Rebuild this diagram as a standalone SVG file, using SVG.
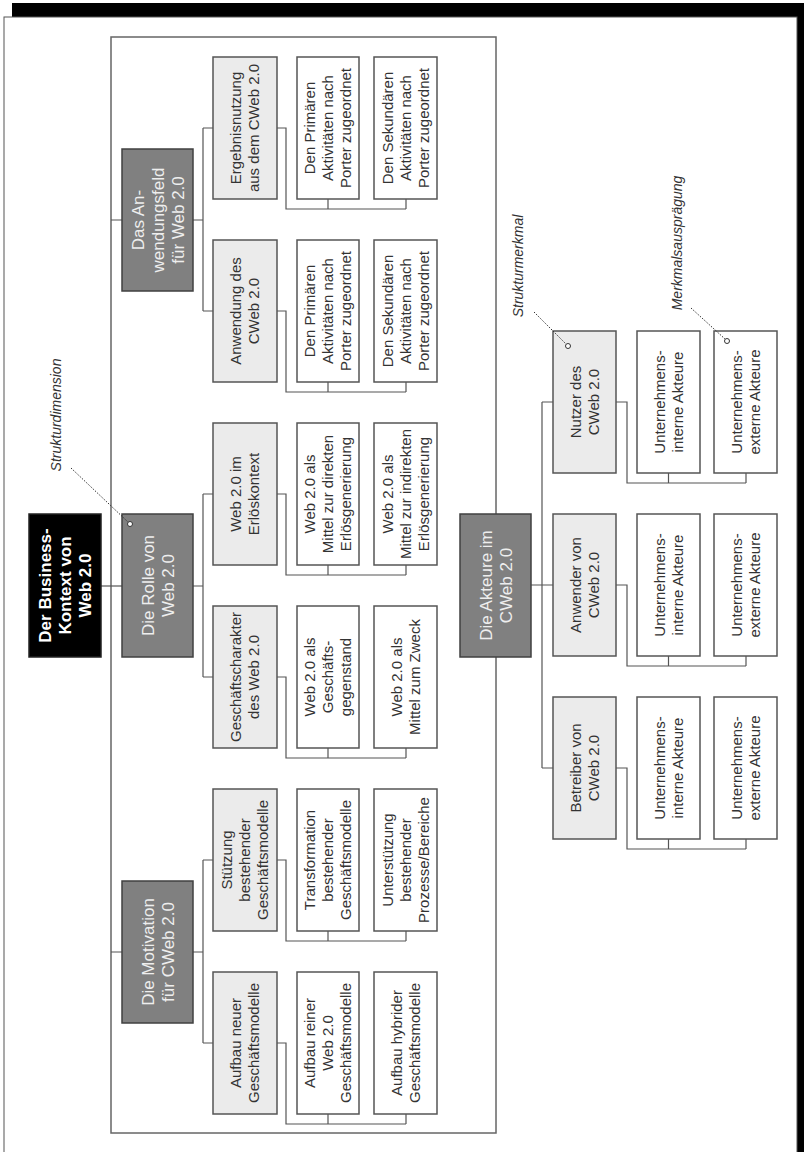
<svg xmlns="http://www.w3.org/2000/svg" width="804" height="1152" viewBox="0 0 804 1152">
<style>
text{font-family:"Liberation Sans",Arial,Helvetica,sans-serif}
.t{font-size:15px;fill:#333;text-anchor:middle}
.td{font-size:17px;fill:#eeeeee;text-anchor:middle}
.tr{font-size:17px;fill:#fff;font-weight:bold;text-anchor:middle}
.ta{font-size:14px;fill:#333;font-style:italic;text-anchor:middle}
.dim{fill:#808080;stroke:#404040;stroke-width:1.5}
.feat{fill:#ebebeb;stroke:#555;stroke-width:1.5}
.leaf{fill:#fff;stroke:#555;stroke-width:1.5}
.root{fill:#000;stroke:#222;stroke-width:1.5}
.c{fill:none;stroke:#555;stroke-width:1.2}
.dot{fill:none;stroke:#333;stroke-width:1;stroke-dasharray:1.5 1.5}
.pin{fill:#fff;stroke:#333;stroke-width:1}
</style>

<!-- outer frame with shadow -->
<rect x="12" y="3" width="800" height="1160" fill="#000"/>
<rect x="4" y="17" width="793" height="1150" fill="#fff" stroke="#555" stroke-width="1"/>

<!-- inner frame (also trunk) -->
<rect x="111" y="37" width="385" height="1096" fill="none" stroke="#666" stroke-width="1.5"/>

<g id="connectors">
  <!-- root to Rolle -->
  <path class="c" d="M101 586 H122"/>
  <!-- frame to dimensions -->
  <path class="c" d="M111 220 H122 M111 952 H122"/>
  <!-- Anwendungsfeld to features -->
  <path class="c" d="M193 220 H203 M203 128 V311 M203 128 H213 M203 311 H213"/>
  <!-- Rolle to features -->
  <path class="c" d="M193 586 H203 M203 494 V677 M203 494 H213 M203 677 H213"/>
  <!-- Motivation to features -->
  <path class="c" d="M193 952 H203 M203 860 V1043 M203 860 H213 M203 1043 H213"/>
  <!-- feature to leaves brackets -->
  <path class="c" d="M277 128 H286 V209 H406 M328 199 V209 M406 199 V209"/>
  <path class="c" d="M277 311 H286 V392 H406 M328 382 V392 M406 382 V392"/>
  <path class="c" d="M277 494 H286 V575 H406 M328 565 V575 M406 565 V575"/>
  <path class="c" d="M277 677 H286 V758 H406 M328 748 V758 M406 748 V758"/>
  <path class="c" d="M277 860 H286 V941 H406 M328 931 V941 M406 931 V941"/>
  <path class="c" d="M277 1043 H286 V1124 H406 M328 1114 V1124 M406 1114 V1124"/>
  <!-- Akteure -->
  <path class="c" d="M531 585 H542 M542 402 V768 M542 402 H553 M542 585 H553 M542 768 H553"/>
  <path class="c" d="M616 402 H627 V483 H746 M668.5 473 V483 M746 473 V483"/>
  <path class="c" d="M616 585 H627 V666 H746 M668.5 656 V666 M746 656 V666"/>
  <path class="c" d="M616 768 H627 V849 H746 M668.5 839 V849 M746 839 V849"/>
</g>

<!-- root -->
<g id="root">
  <rect class="root" x="29" y="514" width="72" height="143"/>
  <text class="tr" transform="translate(65,585.5) rotate(-90)"><tspan x="0" y="-14">Der Business-</tspan><tspan x="0" y="6">Kontext von</tspan><tspan x="0" y="26">Web 2.0</tspan></text>
</g>

<!-- dimensions -->
<g id="dim-anwendungsfeld">
  <rect class="dim" x="122" y="149" width="71" height="142"/>
  <text class="td" transform="translate(157.5,220) rotate(-90)"><tspan x="0" y="-14">Das An-</tspan><tspan x="0" y="6">wendungsfeld</tspan><tspan x="0" y="26">für Web 2.0</tspan></text>
</g>
<g id="dim-rolle">
  <rect class="dim" x="122" y="514" width="71" height="143"/>
  <text class="td" transform="translate(157.5,585.5) rotate(-90)"><tspan x="0" y="-4">Die Rolle von</tspan><tspan x="0" y="16">Web 2.0</tspan></text>
</g>
<g id="dim-motivation">
  <rect class="dim" x="122" y="881" width="71" height="142"/>
  <text class="td" transform="translate(157.5,952) rotate(-90)"><tspan x="0" y="-4">Die Motivation</tspan><tspan x="0" y="16">für CWeb 2.0</tspan></text>
</g>
<g id="dim-akteure">
  <rect class="dim" x="460" y="514" width="71" height="143"/>
  <text class="td" transform="translate(495.5,585.5) rotate(-90)"><tspan x="0" y="-4">Die Akteure im</tspan><tspan x="0" y="16">CWeb 2.0</tspan></text>
</g>

<!-- features -->
<g id="f-ergebnis">
  <rect class="feat" x="213" y="57" width="64" height="142"/>
  <text class="t" transform="translate(245,128) rotate(-90)"><tspan x="0" y="-3.75">Ergebnisnutzung</tspan><tspan x="0" y="14.25">aus dem CWeb 2.0</tspan></text>
</g>
<g id="f-anwendung">
  <rect class="feat" x="213" y="240" width="64" height="142"/>
  <text class="t" transform="translate(245,311) rotate(-90)"><tspan x="0" y="-3.75">Anwendung des</tspan><tspan x="0" y="14.25">CWeb 2.0</tspan></text>
</g>
<g id="f-erloes">
  <rect class="feat" x="213" y="423" width="64" height="142"/>
  <text class="t" transform="translate(245,494) rotate(-90)"><tspan x="0" y="-3.75">Web 2.0 im</tspan><tspan x="0" y="14.25">Erlöskontext</tspan></text>
</g>
<g id="f-geschaeft">
  <rect class="feat" x="213" y="606" width="64" height="142"/>
  <text class="t" transform="translate(245,677) rotate(-90)"><tspan x="0" y="-3.75">Geschäftscharakter</tspan><tspan x="0" y="14.25">des Web 2.0</tspan></text>
</g>
<g id="f-stuetzung">
  <rect class="feat" x="213" y="789" width="64" height="142"/>
  <text class="t" transform="translate(245,860) rotate(-90)"><tspan x="0" y="-12.75">Stützung</tspan><tspan x="0" y="5.25">bestehender</tspan><tspan x="0" y="23.25">Geschäftsmodelle</tspan></text>
</g>
<g id="f-aufbau">
  <rect class="feat" x="213" y="972" width="64" height="142"/>
  <text class="t" transform="translate(245,1043) rotate(-90)"><tspan x="0" y="-3.75">Aufbau neuer</tspan><tspan x="0" y="14.25">Geschäftsmodelle</tspan></text>
</g>

<!-- leaves column 1 / 2 -->
<g id="l-erg-prim">
  <rect class="leaf" x="297" y="57" width="62" height="142"/>
  <text class="t" transform="translate(328,128) rotate(-90)"><tspan x="0" y="-12.75">Den Primären</tspan><tspan x="0" y="5.25">Aktivitäten nach</tspan><tspan x="0" y="23.25">Porter zugeordnet</tspan></text>
</g>
<g id="l-erg-sek">
  <rect class="leaf" x="374" y="57" width="63" height="142"/>
  <text class="t" transform="translate(405.5,128) rotate(-90)"><tspan x="0" y="-12.75">Den Sekundären</tspan><tspan x="0" y="5.25">Aktivitäten nach</tspan><tspan x="0" y="23.25">Porter zugeordnet</tspan></text>
</g>
<g id="l-anw-prim">
  <rect class="leaf" x="297" y="240" width="62" height="142"/>
  <text class="t" transform="translate(328,311) rotate(-90)"><tspan x="0" y="-12.75">Den Primären</tspan><tspan x="0" y="5.25">Aktivitäten nach</tspan><tspan x="0" y="23.25">Porter zugeordnet</tspan></text>
</g>
<g id="l-anw-sek">
  <rect class="leaf" x="374" y="240" width="63" height="142"/>
  <text class="t" transform="translate(405.5,311) rotate(-90)"><tspan x="0" y="-12.75">Den Sekundären</tspan><tspan x="0" y="5.25">Aktivitäten nach</tspan><tspan x="0" y="23.25">Porter zugeordnet</tspan></text>
</g>
<g id="l-erl-dir">
  <rect class="leaf" x="297" y="423" width="62" height="142"/>
  <text class="t" transform="translate(328,494) rotate(-90)"><tspan x="0" y="-12.75">Web 2.0 als</tspan><tspan x="0" y="5.25">Mittel zur direkten</tspan><tspan x="0" y="23.25">Erlösgenerierung</tspan></text>
</g>
<g id="l-erl-ind">
  <rect class="leaf" x="374" y="423" width="63" height="142"/>
  <text class="t" transform="translate(405.5,494) rotate(-90)"><tspan x="0" y="-12.75">Web 2.0 als</tspan><tspan x="0" y="5.25">Mittel zur indirekten</tspan><tspan x="0" y="23.25">Erlösgenerierung</tspan></text>
</g>
<g id="l-ges-gegen">
  <rect class="leaf" x="297" y="606" width="62" height="142"/>
  <text class="t" transform="translate(328,677) rotate(-90)"><tspan x="0" y="-12.75">Web 2.0 als</tspan><tspan x="0" y="5.25">Geschäfts-</tspan><tspan x="0" y="23.25">gegenstand</tspan></text>
</g>
<g id="l-ges-zweck">
  <rect class="leaf" x="374" y="606" width="63" height="142"/>
  <text class="t" transform="translate(405.5,677) rotate(-90)"><tspan x="0" y="-3.75">Web 2.0 als</tspan><tspan x="0" y="14.25">Mittel zum Zweck</tspan></text>
</g>
<g id="l-stu-trans">
  <rect class="leaf" x="297" y="789" width="62" height="142"/>
  <text class="t" transform="translate(328,860) rotate(-90)"><tspan x="0" y="-12.75">Transformation</tspan><tspan x="0" y="5.25">bestehender</tspan><tspan x="0" y="23.25">Geschäftsmodelle</tspan></text>
</g>
<g id="l-stu-unter">
  <rect class="leaf" x="374" y="789" width="63" height="142"/>
  <text class="t" transform="translate(405.5,860) rotate(-90)"><tspan x="0" y="-12.75">Unterstützung</tspan><tspan x="0" y="5.25">bestehender</tspan><tspan x="0" y="23.25">Prozesse/Bereiche</tspan></text>
</g>
<g id="l-auf-rein">
  <rect class="leaf" x="297" y="972" width="62" height="142"/>
  <text class="t" transform="translate(328,1043) rotate(-90)"><tspan x="0" y="-12.75">Aufbau reiner</tspan><tspan x="0" y="5.25">Web 2.0</tspan><tspan x="0" y="23.25">Geschäftsmodelle</tspan></text>
</g>
<g id="l-auf-hyb">
  <rect class="leaf" x="374" y="972" width="63" height="142"/>
  <text class="t" transform="translate(405.5,1043) rotate(-90)"><tspan x="0" y="-3.75">Aufbau hybrider</tspan><tspan x="0" y="14.25">Geschäftsmodelle</tspan></text>
</g>

<!-- Akteure features -->
<g id="f-nutzer">
  <rect class="feat" x="553" y="331" width="63" height="142"/>
  <text class="t" transform="translate(584.5,402) rotate(-90)"><tspan x="0" y="-3.75">Nutzer des</tspan><tspan x="0" y="14.25">CWeb 2.0</tspan></text>
</g>
<g id="f-anwender">
  <rect class="feat" x="553" y="514" width="63" height="142"/>
  <text class="t" transform="translate(584.5,585) rotate(-90)"><tspan x="0" y="-3.75">Anwender von</tspan><tspan x="0" y="14.25">CWeb 2.0</tspan></text>
</g>
<g id="f-betreiber">
  <rect class="feat" x="553" y="697" width="63" height="142"/>
  <text class="t" transform="translate(584.5,768) rotate(-90)"><tspan x="0" y="-3.75">Betreiber von</tspan><tspan x="0" y="14.25">CWeb 2.0</tspan></text>
</g>

<!-- Akteure leaves -->
<g id="l-nut-int">
  <rect class="leaf" x="637" y="331" width="63" height="142"/>
  <text class="t" transform="translate(668.5,402) rotate(-90)"><tspan x="0" y="-3.75">Unternehmens-</tspan><tspan x="0" y="14.25">interne Akteure</tspan></text>
</g>
<g id="l-nut-ext">
  <rect class="leaf" x="714" y="331" width="63" height="142"/>
  <text class="t" transform="translate(745.5,402) rotate(-90)"><tspan x="0" y="-3.75">Unternehmens-</tspan><tspan x="0" y="14.25">externe Akteure</tspan></text>
</g>
<g id="l-anw-int">
  <rect class="leaf" x="637" y="514" width="63" height="142"/>
  <text class="t" transform="translate(668.5,585) rotate(-90)"><tspan x="0" y="-3.75">Unternehmens-</tspan><tspan x="0" y="14.25">interne Akteure</tspan></text>
</g>
<g id="l-anw-ext">
  <rect class="leaf" x="714" y="514" width="63" height="142"/>
  <text class="t" transform="translate(745.5,585) rotate(-90)"><tspan x="0" y="-3.75">Unternehmens-</tspan><tspan x="0" y="14.25">externe Akteure</tspan></text>
</g>
<g id="l-bet-int">
  <rect class="leaf" x="637" y="697" width="63" height="142"/>
  <text class="t" transform="translate(668.5,768) rotate(-90)"><tspan x="0" y="-3.75">Unternehmens-</tspan><tspan x="0" y="14.25">interne Akteure</tspan></text>
</g>
<g id="l-bet-ext">
  <rect class="leaf" x="714" y="697" width="63" height="142"/>
  <text class="t" transform="translate(745.5,768) rotate(-90)"><tspan x="0" y="-3.75">Unternehmens-</tspan><tspan x="0" y="14.25">externe Akteure</tspan></text>
</g>

<!-- annotations -->
<g id="ann-strukturdimension">
  <text class="ta" transform="translate(61,415) rotate(-90)">Strukturdimension</text>
  <path class="dot" d="M71 468 L128 522"/>
  <circle class="pin" cx="130" cy="524" r="2.5"/>
</g>
<g id="ann-strukturmerkmal">
  <text class="ta" transform="translate(523,266) rotate(-90)">Strukturmerkmal</text>
  <path class="dot" d="M534 312 L566 344"/>
  <circle class="pin" cx="568" cy="346" r="2.5"/>
</g>
<g id="ann-merkmalsauspraegung">
  <text class="ta" transform="translate(682,243) rotate(-90)">Merkmalsausprägung</text>
  <path class="dot" d="M691 308 L725 339"/>
  <circle class="pin" cx="727" cy="341" r="2.5"/>
</g>
</svg>
